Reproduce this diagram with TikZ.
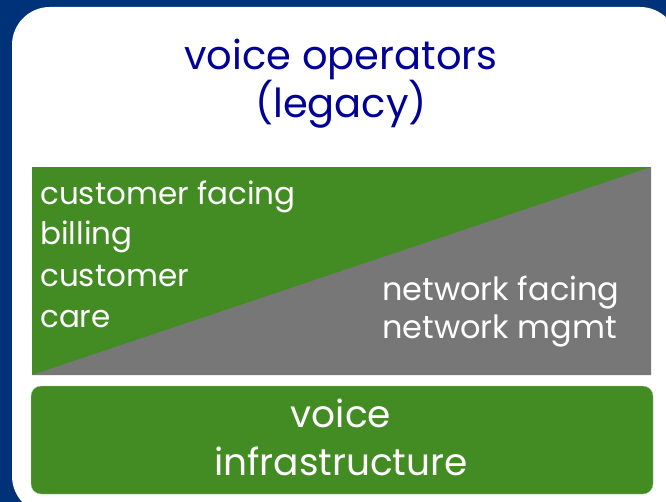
\documentclass[tikz,border=0pt]{standalone}
\usepackage{fontspec}
\setmainfont{Poppins}
\definecolor{slideblue}{RGB}{0,50,122}
\definecolor{titleblue}{RGB}{0,0,150}
\definecolor{opsgreen}{RGB}{66,140,35}
\definecolor{opsgray}{RGB}{119,119,119}
\tikzset{lbl/.style={inner sep=0pt, text=white, align=left}}
\tikzset{ctr/.style={inner sep=0pt, align=center}}

\begin{document}
\begin{tikzpicture}[x=1pt,y=-1pt]
    \useasboundingbox (0,0) rectangle (666,502);
    \fill[slideblue] (0,0) rectangle (666,502);
    \fill[white, rounded corners=38pt] (12,7) rectangle (678,514);

    % split box
    \fill[opsgreen] (32,167) rectangle (651,375);
    \fill[opsgray] (32,375) -- (651,167) -- (651,375) -- cycle;
    \fill[opsgreen, draw=opsgreen!45!white, rounded corners=10pt] (31,386) rectangle (653,494);

    \node[ctr, text=titleblue, font=\fontsize{40}{44}\selectfont, anchor=base] (title) at (341,118) {voice operators\\(legacy)};
    \node[lbl, font=\fontsize{31}{41}\selectfont, anchor=base west] (cust) at (40,327) {customer facing\\billing\\customer\\care};
    \node[lbl, font=\fontsize{32}{38}\selectfont, anchor=base west] (netw) at (382,338) {network facing\\network mgmt};
    \node[ctr, text=white, font=\fontsize{37.5}{48}\selectfont, anchor=base] (infra) at (341,475) {voice\\infrastructure};
\end{tikzpicture}
\end{document}
